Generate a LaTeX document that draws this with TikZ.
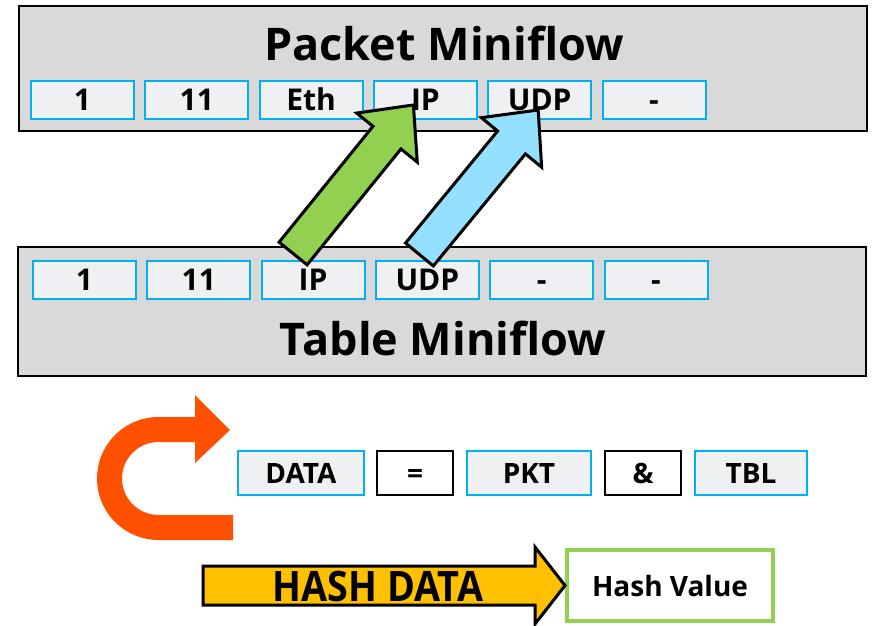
\documentclass[tikz,border=0pt]{standalone}
\usepackage{fontspec}
\setmainfont{Open Sans}
\usetikzlibrary{calc}
\usetikzlibrary{arrows.meta}
\tikzset{>=latex}

\definecolor{panelgray}{HTML}{D9D9D9}
\definecolor{fieldblue}{HTML}{00B0F0}
\definecolor{fieldfill}{HTML}{EFF0F2}
\definecolor{arrgreen}{HTML}{92D050}
\definecolor{arrblue}{HTML}{93E0FF}
\definecolor{arrorange}{HTML}{FF5000}
\definecolor{hashyellow}{HTML}{FFC000}

\tikzset{
  panel/.style={draw=black, line width=2pt, fill=panelgray, minimum width=848pt, inner sep=0pt},
  paneltitle/.style={font=\fontsize{45}{45}\selectfont\bfseries},
  field/.style={draw=fieldblue, line width=2pt, fill=fieldfill, minimum width=103pt,
    minimum height=38pt, inner sep=0pt, text height=21pt, text depth=0pt,
    font=\fontsize{30}{30}\selectfont\bfseries},
  term/.style={draw=fieldblue, line width=2pt, fill=fieldfill, minimum height=44pt,
    inner sep=0pt, text height=20pt, text depth=0pt, font=\fontsize{28}{28}\selectfont\bfseries},
  op/.style={term, draw=black, fill=white},
  fatarrow/.style={draw=black, line width=3pt, line join=miter},
}

% block arrow from #1 to #2, filled with #3
\newcommand{\fatarrow}[3]{%
  \path let \p1=($(#2)-(#1)$) in
    \pgfextra{\pgfmathsetmacro\fatang{atan2(\y1,\x1)}%
              \pgfmathsetmacro\fatlen{veclen(\x1,\y1)}%
              \xdef\fatang{\fatang}\xdef\fatlen{\fatlen}};
  \draw[fatarrow, fill=#3, shift={(#1)}, rotate=\fatang]
    (0,-18) -- (\fatlen-42,-18) -- (\fatlen-42,-39) -- (\fatlen,0)
    -- (\fatlen-42,39) -- (\fatlen-42,18) -- (0,18) -- cycle;
}

\begin{document}
\begin{tikzpicture}[x=1pt, y=-1pt]
  \useasboundingbox[fill=white] (0,0) rectangle (873,626);

  % the two miniflows
  \node[panel, minimum height=125pt] (pkt) at (443,68.5) {};
  \node[paneltitle, anchor=base] (pkttitle) at (444,61) {Packet Miniflow};
  \foreach \lbl [count=\i from 0] in {1,11,Eth,IP,UDP,-}
    \node[field] (p\i) at (82.5+114.3*\i,100) {\lbl};

  \node[panel, minimum height=129pt] (tbl) at (442,311.5) {};
  \node[paneltitle, anchor=base] (tbltitle) at (443,355) {Table Miniflow};
  \foreach \lbl [count=\i from 0] in {1,11,IP,UDP,-,-}
    \node[field] (t\i) at (84.5+114.3*\i,279.5) {\lbl};

  % IP and UDP move to their packet slots
  \coordinate (gtail) at ($(t2.north)+(-20,-6)$);
  \coordinate (gtip)  at ($(p3.south)+(-12,-15)$);
  \coordinate (btail) at ($(t3.north)+(-8,-5)$);
  \coordinate (btip)  at ($(p4.south)+(-1.5,-10)$);
  \fatarrow{gtail}{gtip}{arrgreen}
  \fatarrow{btail}{btip}{arrblue}

  % DATA = PKT & TBL
  \node[term, minimum width=126pt] (data) at (301,473) {DATA};
  \node[op,   minimum width=76pt]  (eq)   at (415,473) {=};
  \node[term, minimum width=124pt] (pktd) at (529,473) {PKT};
  \node[op,   minimum width=76pt]  (amp)  at (643,473) {\&};
  \node[term, minimum width=112pt] (tbld) at (751,473) {TBL};

  % loop back
  \draw[arrorange, line width=25pt] (233,527.5) -- (158.5,527.5)
    arc[start angle=270, end angle=90, radius=49pt] -- (196,429.5);
  \fill[arrorange] (195,395) -- (230,430) -- (195,463) -- cycle;

  % hashing
  \node[draw=arrgreen, line width=4pt, minimum width=206pt, minimum height=71pt,
    font=\fontsize{28}{28}\selectfont\bfseries] (hash) at (670,585.5) {Hash Value};
  \draw[fatarrow, fill=hashyellow] ($(hash.west)+(-362,-19.5)$) -- ++(332,0) -- ++(0,-19)
    -- (hash.west) -- ++(-30,38.5) -- ++(0,-19) -- ++(-332,0) -- cycle;
  \node[font=\fontsize{42}{42}\selectfont\bfseries] (hashlbl) at ($(hash.west)+(-187,1)$)
    {\scalebox{0.9}[1]{HASH DATA}};
\end{tikzpicture}
\end{document}
